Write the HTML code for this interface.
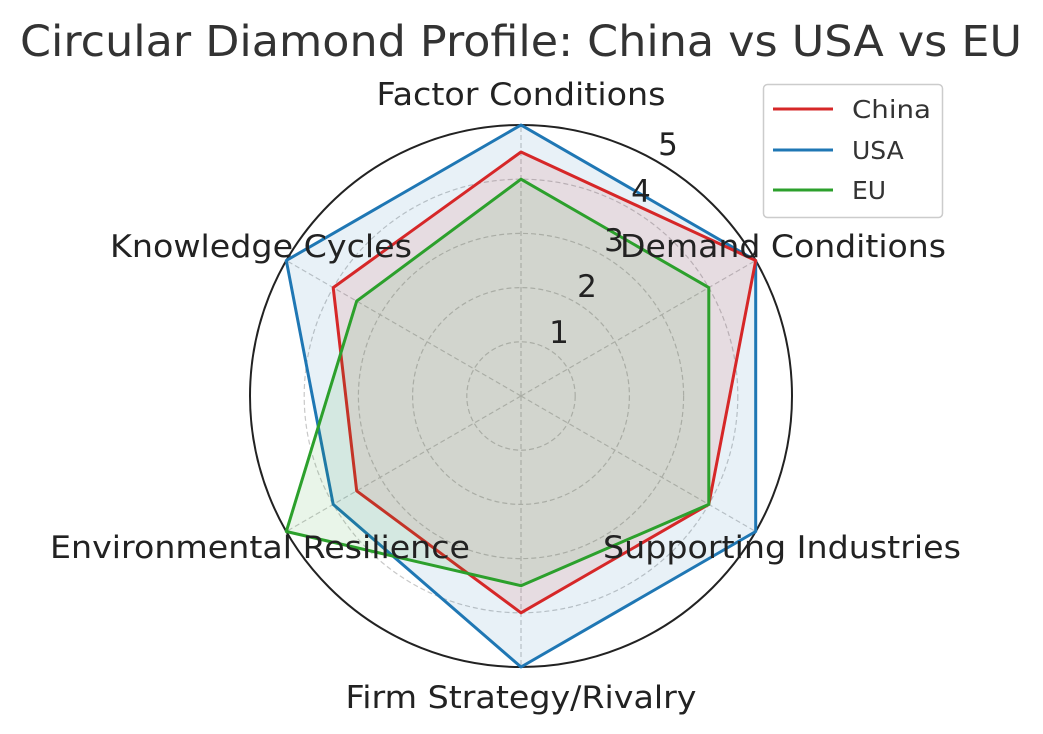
<!DOCTYPE html>
<html><head><meta charset="utf-8"><style>body{margin:0;background:#fff}svg{display:block}</style></head><body>
<svg width="1043" height="734" xmlns="http://www.w3.org/2000/svg" font-family="DejaVu Sans, sans-serif">
<rect width="1043" height="734" fill="#fff"/>
<text x="521" y="56" font-size="43" fill="#333" text-anchor="middle" textLength="1002" lengthAdjust="spacingAndGlyphs">Circular Diamond Profile: China vs USA vs EU</text>
<g fill="none" stroke="#c8c8c8" stroke-width="1.2" stroke-dasharray="5,3">
<circle cx="521" cy="396" r="54.2"/><circle cx="521" cy="396" r="108.4"/><circle cx="521" cy="396" r="162.6"/><circle cx="521" cy="396" r="216.8"/>
<line x1="521" y1="396" x2="521" y2="125"/><line x1="521" y1="396" x2="755.7" y2="260.5"/><line x1="521" y1="396" x2="755.7" y2="531.5"/>
<line x1="521" y1="396" x2="521" y2="667"/><line x1="521" y1="396" x2="286.3" y2="531.5"/><line x1="521" y1="396" x2="286.3" y2="260.5"/>
</g>
<circle cx="521" cy="396" r="271" fill="none" stroke="#222" stroke-width="2"/>
<g stroke-width="3" stroke-linejoin="round">
<polygon points="521,125 755.7,260.5 755.7,531.5 521,667 333.2,504.4 286.3,260.5" fill="rgba(31,119,180,0.1)" stroke="#1f77b4"/>
<polygon points="521,152 755.7,260.5 708.8,504.4 521,612.8 356.7,490.9 333.2,287.6" fill="rgba(214,39,40,0.1)" stroke="#d62728"/>
<polygon points="521,179.2 708.8,287.6 708.8,504.4 521,585.7 286.3,531.5 356.7,301.1" fill="rgba(44,160,44,0.1)" stroke="#2ca02c"/>
</g>
<g font-size="31" fill="#222" text-anchor="middle">
<text x="559" y="343">1</text><text x="587" y="297">2</text><text x="614" y="251">3</text><text x="641" y="202">4</text><text x="668" y="155">5</text>
</g>
<g font-size="31" fill="#222">
<text x="521" y="105" text-anchor="middle" textLength="289" lengthAdjust="spacingAndGlyphs">Factor Conditions</text>
<text x="620" y="257" textLength="326" lengthAdjust="spacingAndGlyphs">Demand Conditions</text>
<text x="603" y="558" textLength="358" lengthAdjust="spacingAndGlyphs">Supporting Industries</text>
<text x="521" y="708" text-anchor="middle" textLength="351" lengthAdjust="spacingAndGlyphs">Firm Strategy/Rivalry</text>
<text x="50" y="558" textLength="420" lengthAdjust="spacingAndGlyphs">Environmental Resilience</text>
<text x="110" y="257" textLength="302" lengthAdjust="spacingAndGlyphs">Knowledge Cycles</text>
</g>
<rect x="763.5" y="84.5" width="179" height="133" rx="4" fill="#fff" fill-opacity="0.8" stroke="#ccc" stroke-width="1.5"/>
<g stroke-width="3"><line x1="773" y1="109" x2="833" y2="109" stroke="#d62728"/><line x1="773" y1="150" x2="833" y2="150" stroke="#1f77b4"/><line x1="773" y1="190" x2="833" y2="190" stroke="#2ca02c"/></g>
<g font-size="25" fill="#333"><text x="852" y="118" textLength="79" lengthAdjust="spacingAndGlyphs">China</text><text x="852" y="159">USA</text><text x="852" y="199">EU</text></g>
</svg>
</body></html>
